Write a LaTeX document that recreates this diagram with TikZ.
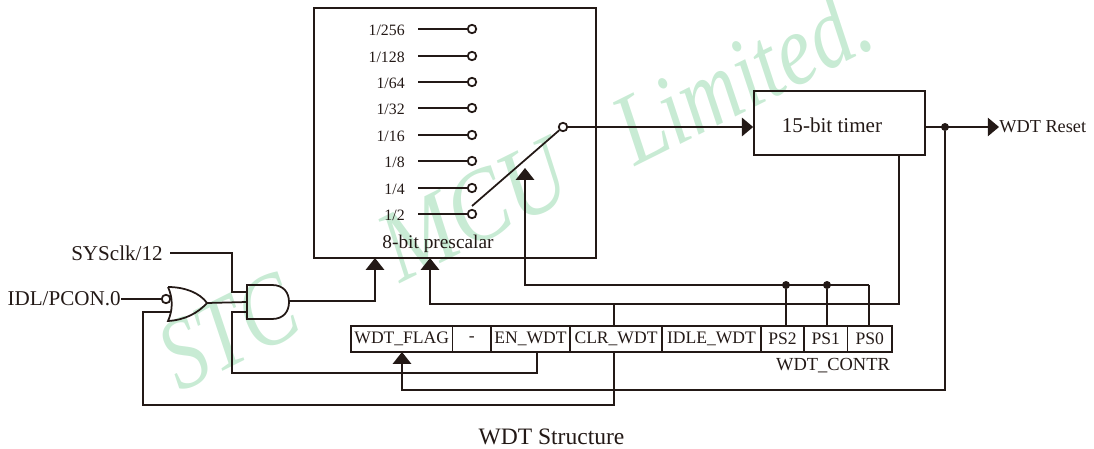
\documentclass[tikz,border=0pt]{standalone}
\usepackage{fontspec}
\setmainfont{Liberation Serif}
\usetikzlibrary{arrows.meta}
\definecolor{ink}{RGB}{35,25,22}
\definecolor{stcgreen}{RGB}{200,235,212}
\newcommand{\fs}[1]{\fontsize{#1}{#1}\selectfont}
\tikzset{
  wire/.style={draw=ink,line width=1pt},
  upto/.style={wire,-{Triangle[length=6.8pt,width=10.5pt]}},
  pin/.style={circle,draw=ink,fill=white,line width=1pt,inner sep=0pt,minimum size=0.17cm},
  dot/.style={circle,fill=ink,inner sep=0pt,minimum size=0.16cm},
  block/.style={draw=ink,line width=1pt,inner sep=0pt},
  cell/.style={draw=ink,line width=1pt,inner sep=0pt,minimum height=0.52cm,text=ink,font=\fs{10}},
  ratelbl/.style={anchor=east,inner sep=0pt,text=ink,font=\fs{9}},
  lbl/.style={inner sep=0pt,text=ink,font=\fs{#1}},
  wmark/.style={anchor=base west,rotate=26.5,xscale=#1,inner sep=0pt,text=stcgreen,font=\fs{58}\itshape},
}
\begin{document}
\begin{tikzpicture}[x=0.02cm,y=-0.02cm]
\useasboundingbox (0,0) rectangle (1094,449);
% watermark
\node[wmark=0.8] (markstc) at (180,393) {STC};
\node[wmark=0.87] (markmcu) at (400,284) {MCU};
\node[wmark=0.81] (marklim) at (635,167) {Limited.};
% prescaler and timer
\node[block,minimum width=5.64cm,minimum height=5cm] (prescaler) at (455,133) {};
\node[block,minimum width=3.42cm,minimum height=1.28cm] (timer) at (839.5,123) {};
\node[lbl=12] (timerlbl) at (832,125) {15-bit timer};
\node[lbl=11] (prelbl) at (438,244) {8-bit prescalar};
% taps
\foreach \n/\y/\lab in {a/29/1\slash 256,b/56/1\slash 128,c/82/1\slash 64,d/108/1\slash 32,e/135/1\slash 16,f/161/1\slash 8,g/188/1\slash 4,h/214/1\slash 2}{
  \node[ratelbl] (r\n) at (405,\y+1) {\lab};
  \coordinate (s\n) at (418,\y);
  \node[pin] (t\n) at (472,\y) {};
  \draw[wire] (s\n) -- (t\n);
}
% switch
\node[pin] (swout) at (563,127) {};
\coordinate (swin) at (472,206);
\draw[wire] (swin) -- (swout);
\draw[wire,-{Triangle[length=6.4pt,width=10.5pt]}] (swout) -- (timer.west |- swout);
% register cells
\foreach \n/\xa/\xb/\lab in {cflag/351/452.5/WDT\_FLAG,cdash/452.5/491/-,cen/491/570/EN\_WDT,cclr/570/662/CLR\_WDT,cidle/662/761/IDLE\_WDT,cpstwo/761/804/PS2,cpsone/804/847.5/PS1,cpszero/847.5/892/PS0}{
  \node[cell,minimum width={(\xb-\xa)*0.02cm}] (\n) at ({(\xa+\xb)/2},339) {\lab};
}
\node[lbl=10.5] (contr) at (833,366) {WDT\_CONTR};
% timer output
\node[dot] (jreset) at (945,127) {};
\node[lbl=10.4,anchor=west] (reset) at (999,127) {WDT Reset};
\draw[wire,-{Triangle[length=6.4pt,width=10.5pt]}] (timer.east |- jreset) -- (reset.west);
% prescale select
\node[dot] (jtwo) at (786,285) {};
\node[dot] (jone) at (827,285) {};
\coordinate (selend) at (869,285);
\coordinate (swsel) at (525,168);
\draw[upto] (selend) -- (swsel |- selend) -- (swsel);
\draw[wire] (selend) -- (selend |- cpszero.north);
\draw[wire] (jone) -- (jone |- cpsone.north);
\draw[wire] (jtwo) -- (jtwo |- cpstwo.north);
% clear lines
\coordinate (clrtop) at (899,304);
\coordinate (preclr) at (430,258);
\coordinate (clrx) at (614,304);
\draw[upto] (timer.south -| clrtop) -- (clrtop) -- (preclr |- clrtop) -- (preclr);
\draw[wire] (clrx) -- (clrx |- cclr.north);
\coordinate (rstlow) at (945,390);
\coordinate (flagin) at (402,352);
\draw[upto] (jreset) -- (rstlow) -- (flagin |- rstlow) -- (flagin);
% gates
\coordinate (andin) at (247,302);
\coordinate (andout) at (289,301);
\coordinate (orout) at (207,303);
\draw[block] (247,285) -- (272,285) .. controls (284,285) and (289,293) .. (289,302) .. controls (289,311) and (284,319) .. (272,319) -- (247,319) -- cycle;
\draw[block] (168,287) .. controls (185,287) and (200,293) .. (207,303) .. controls (198,313) and (185,320) .. (168,321) .. controls (173,310) and (173,298) .. (168,287);
\node[pin] (orpin) at (166,299) {};
\node[lbl=12,anchor=east] (idl) at (121,299) {IDL/PCON.0};
\node[lbl=12,anchor=east] (sysclk) at (163,253) {SYSclk/12};
\coordinate (sysend) at (170,253);
\coordinate (sysmid) at (232,253);
\coordinate (andtop) at (247,292);
\coordinate (andlow) at (247,312);
\coordinate (orlow) at (170,312);
\coordinate (prein) at (375,258);
\coordinate (enout) at (537,352);
\coordinate (enmid) at (232,373);
\coordinate (fbleft) at (143,405);
\draw[wire] (idl.east) -- (orpin);
\draw[wire] (sysend) -- (sysmid) |- (andtop);
\draw[wire] (orout) -- (andin);
\draw[upto] (andout) -| (prein);
\draw[wire] (enout) |- (enmid) |- (andlow);
\draw[wire] (cclr.south -| clrx) |- (fbleft) |- (orlow);
% caption
\node[lbl=13.4] (caption) at (551.5,437) {WDT Structure};
\end{tikzpicture}
\end{document}
